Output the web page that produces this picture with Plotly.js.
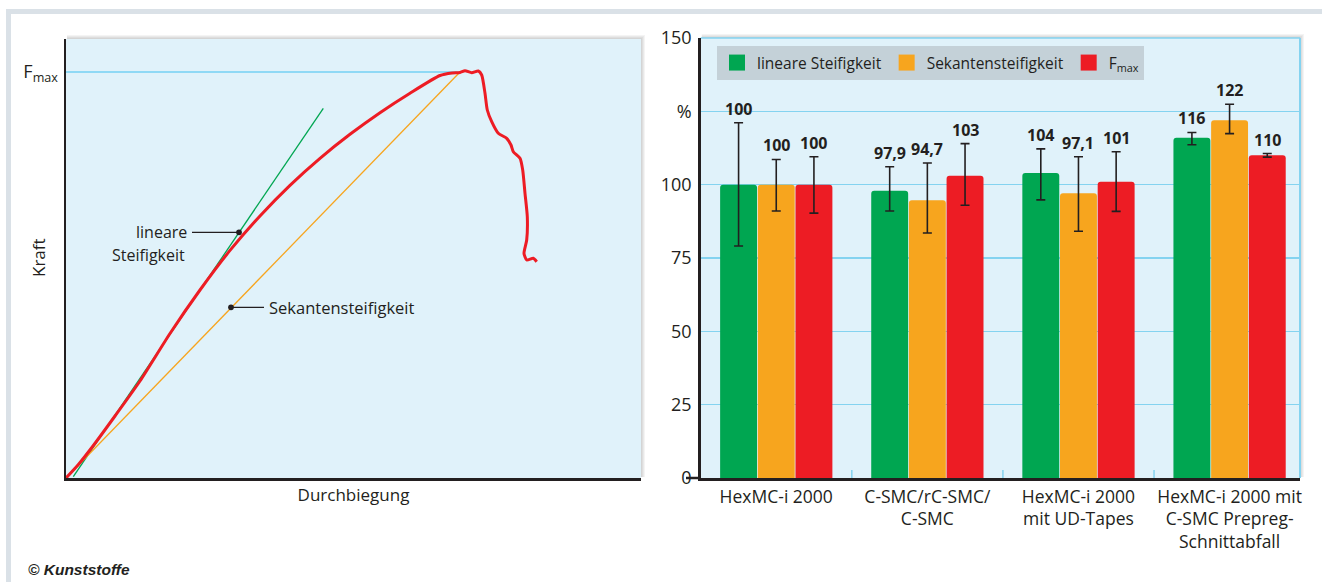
<!DOCTYPE html>
<html>
<head>
<meta charset="utf-8">
<script src="https://cdn.plot.ly/plotly-3.0.1.min.js"></script>
<style>
  html, body { margin: 0; padding: 0; background: #ffffff; }
  #chart { width: 1322px; height: 582px; }
</style>
</head>
<body>
<div id="chart"></div>
<script>
// ---------------- DATA ----------------
// Left chart: schematic force–deflection curve (units)
const curveX = [0, 12, 27, 49, 74, 104, 134, 164, 194, 224, 254, 284, 314, 344, 374, 386, 394, 399, 405.7, 412.3, 415.7, 419, 421.3, 425.7, 432.3, 440.7, 445, 447.3, 454, 456.7, 459, 461.3, 460.7, 458, 460.7, 467.3, 470.7];
const curveY = [0, 13, 32, 62, 97, 144.5, 188, 227.6, 262.1, 292.7, 319.7, 343.7, 365.3, 384.8, 402.5, 405, 405.5, 407.3, 405.3, 407, 403, 384.7, 368, 356.3, 344.7, 339.7, 333, 326.3, 319.7, 308, 284.7, 261.3, 238, 224.7, 218, 219.7, 216.3];
const tangentX = [7.3, 257.3];
const tangentY = [1.3, 369.7];
const secantX = [0, 394];
const secantY = [0, 406];
const fmaxX = [0, 394];
const fmaxY = [406, 406];
const fmaxTickLabel = ['F<sub>max</sub>'];
const linPoint = [173, 245.7];
const secPoint = [165, 170.7];

// Right chart: bar values (%)
const categories = ['HexMC-i 2000', 'C-SMC/rC-SMC/<br>C-SMC', 'HexMC-i 2000<br>mit UD-Tapes', 'HexMC-i 2000 mit<br>C-SMC Prepreg-<br>Schnittabfall'];
const seriesNames = ['lineare Steifigkeit', 'Sekantensteifigkeit', 'F<sub>max</sub>'];
const linStiff = [100, 97.9, 104, 116];
const linErrPlus = [21.1, 8.2, 8.2, 1.8];
const linErrMinus = [20.9, 6.9, 9.2, 2.4];
const linLabels = ['100', '97,9', '104', '116'];
const secStiff = [100, 94.7, 97.1, 122];
const secErrPlus = [8.6, 12.7, 12.4, 5.4];
const secErrMinus = [9.0, 11.2, 13.0, 4.6];
const secLabels = ['100', '94,7', '97,1', '122'];
const fmaxVals = [100, 103, 101, 110];
const fmaxErrPlus = [9.5, 11.0, 10.2, 0.6];
const fmaxErrMinus = [9.7, 10.0, 10.1, 0.6];
const fmaxLabels = ['100', '103', '101', '110'];
const yTickVals = [0, 25, 50, 75, 100, 125, 150];
const yTickText = ['0', '25', '50', '75', '100', '%', '150'];

// ---------------- STYLE ----------------
const W = 1322, H = 582;
const GREEN = '#00a651', ORANGE = '#f7a51e', RED = '#ed1c24', INK = '#231f20';
const BG = '#e0f2fa', GRID = '#84d3f0';
const colors = [GREEN, ORANGE, RED];
const px = v => v / W;
const py = v => 1 - v / H;

// plot boxes in pixels
const L = {x0: 66, x1: 641, y0: 39, y1: 478};
const R = {x0: 700.7, x1: 1300, y0: 38, y1: 478};

const traces = [];
// left chart traces
traces.push({x: fmaxX, y: fmaxY, type: 'scatter', mode: 'lines', line: {color: '#8fd9f5', width: 2}, xaxis: 'x', yaxis: 'y', showlegend: false, hoverinfo: 'skip'});
traces.push({x: tangentX, y: tangentY, type: 'scatter', mode: 'lines', line: {color: GREEN, width: 1.3}, xaxis: 'x', yaxis: 'y', showlegend: false});
traces.push({x: secantX, y: secantY, type: 'scatter', mode: 'lines', line: {color: ORANGE, width: 1.3}, xaxis: 'x', yaxis: 'y', showlegend: false});
traces.push({x: curveX, y: curveY, type: 'scatter', mode: 'lines', line: {color: RED, width: 3, shape: 'spline', smoothing: 0.6}, xaxis: 'x', yaxis: 'y', showlegend: false});

// right chart bars
const vals = [linStiff, secStiff, fmaxVals];
const errP = [linErrPlus, secErrPlus, fmaxErrPlus];
const errM = [linErrMinus, secErrMinus, fmaxErrMinus];
const labels = [linLabels, secLabels, fmaxLabels];
for (let s = 0; s < 3; s++) {
  traces.push({
    type: 'bar', x: categories, y: vals[s], name: seriesNames[s],
    xaxis: 'x2', yaxis: 'y2', showlegend: false,
    marker: {color: colors[s], cornerradius: 3, line: {width: 0}},
    error_y: {type: 'data', symmetric: false, array: errP[s], arrayminus: errM[s], color: INK, thickness: 1.6, width: 4.5}
  });
}
// legend entries
for (let s = 0; s < 3; s++) {
  traces.push({
    type: 'scatter', mode: 'markers', x: [null], y: [null], name: seriesNames[s],
    xaxis: 'x2', yaxis: 'y2', showlegend: true,
    marker: {symbol: 'square', size: 16, color: colors[s]}
  });
}

// ---------------- SHAPES ----------------
const shapes = [];
// page frame
shapes.push({type: 'rect', xref: 'paper', yref: 'paper', x0: px(6), x1: 1, y0: py(14), y1: py(9), fillcolor: '#dae1e7', line: {width: 0}, layer: 'below'});
shapes.push({type: 'rect', xref: 'paper', yref: 'paper', x0: px(6), x1: px(11), y0: 0, y1: py(9), fillcolor: '#dae1e7', line: {width: 0}, layer: 'below'});
// plot shadows + backgrounds
[L, R].forEach(b => {
  for (let k = 1; k <= 4; k++) {
    shapes.push({type: 'rect', xref: 'paper', yref: 'paper', x0: px(b.x0 + 1), x1: px(b.x1 + k), y0: py(b.y1 - 1), y1: py(b.y0 - k), fillcolor: 'rgba(0,0,0,0.045)', line: {width: 0}, layer: 'below'});
  }
  shapes.push({type: 'rect', xref: 'paper', yref: 'paper', x0: px(b.x0), x1: px(b.x1), y0: py(b.y1), y1: py(b.y0), fillcolor: BG, line: {width: 0}, layer: 'below'});
});
// right plot light-blue frame (top / right)
shapes.push({type: 'line', xref: 'paper', yref: 'paper', x0: px(R.x0), x1: px(R.x1), y0: py(R.y0), y1: py(R.y0), line: {color: GRID, width: 1.5}, layer: 'below'});
shapes.push({type: 'line', xref: 'paper', yref: 'paper', x0: px(R.x1), x1: px(R.x1), y0: py(R.y1), y1: py(R.y0), line: {color: GRID, width: 2}, layer: 'below'});
// group separator ticks
[0.5, 1.5, 2.5].forEach(v => {
  shapes.push({type: 'line', xref: 'x2', yref: 'paper', x0: v, x1: v, y0: py(R.y1), y1: py(R.y1 - 8), line: {color: GRID, width: 1.5}, layer: 'below'});
});
// extended x axis line at 0
shapes.push({type: 'line', xref: 'paper', yref: 'paper', x0: px(686), x1: px(R.x0), y0: py(R.y1), y1: py(R.y1), line: {color: INK, width: 2.5}});

// ---------------- ANNOTATIONS ----------------
const annotations = [];
const offs = [-0.2495, 0, 0.2495];
for (let s = 0; s < 3; s++) {
  for (let i = 0; i < categories.length; i++) {
    annotations.push({
      xref: 'x2', yref: 'y2', x: i + offs[s], y: vals[s][i] + errP[s][i],
      text: labels[s][i], showarrow: false, yanchor: 'bottom', yshift: 1,
      font: {family: 'Open Sans', size: 16, color: INK, weight: 'bold'}
    });
  }
}
// left chart pointer labels
annotations.push({xref: 'x', yref: 'y', x: linPoint[0], y: linPoint[1], text: 'lineare', showarrow: true,
  axref: 'pixel', ayref: 'pixel', ax: -47, ay: 0, xanchor: 'right', borderpad: 4,
  arrowhead: 6, arrowsize: 1.1, arrowwidth: 1.3, arrowcolor: INK, font: {size: 16, color: INK}});
annotations.push({xref: 'x', yref: 'y', x: linPoint[0], y: linPoint[1], text: 'Steifigkeit', showarrow: false,
  xanchor: 'right', xshift: -52, yshift: -23, font: {size: 16, color: INK}});
annotations.push({xref: 'x', yref: 'y', x: secPoint[0], y: secPoint[1], text: 'Sekantensteifigkeit', showarrow: true,
  axref: 'pixel', ayref: 'pixel', ax: 33, ay: 0, xanchor: 'left', borderpad: 4,
  arrowhead: 6, arrowsize: 1.1, arrowwidth: 1.3, arrowcolor: INK, font: {size: 16.5, color: INK}});
// Kraft title
annotations.push({xref: 'paper', yref: 'paper', x: px(38), y: py(258), xanchor: 'center', yanchor: 'middle', text: 'Kraft', textangle: -90, showarrow: false,
  font: {size: 17, color: INK}});
// copyright
annotations.push({xref: 'paper', yref: 'paper', x: px(26), y: py(569), xanchor: 'left', yanchor: 'middle', text: '<b><i>© Kunststoffe</i></b>', showarrow: false,
  font: {family: 'Liberation Sans Narrow, Liberation Sans, Arial', size: 15.5, color: INK}});

const layout = {
  width: W, height: H,
  margin: {l: 0, r: 0, t: 0, b: 0, pad: 0},
  paper_bgcolor: '#ffffff', plot_bgcolor: 'rgba(0,0,0,0)',
  font: {family: 'Open Sans, Noto Sans, sans-serif', size: 16, color: INK},
  xaxis: {domain: [px(L.x0), px(L.x1)], range: [0, 575], showgrid: false, zeroline: false,
    showline: true, linecolor: INK, linewidth: 2.5, ticks: '', showticklabels: false,
    title: {text: 'Durchbiegung', font: {size: 17, color: INK}, standoff: 10}},
  yaxis: {domain: [py(L.y1), py(L.y0)], range: [0, 439], showgrid: false, zeroline: false,
    showline: true, linecolor: INK, linewidth: 2.5, ticks: '',
    tickvals: [fmaxY[0]], ticktext: fmaxTickLabel, tickfont: {size: 18, color: INK}, ticklabelstandoff: 2},
  xaxis2: {domain: [px(R.x0), px(R.x1)], range: [-0.5, 3.466], type: 'category', showgrid: false, zeroline: false,
    showline: true, linecolor: INK, linewidth: 2.5, ticks: '', tickfont: {size: 17.5, color: INK}, ticklabelstandoff: 1, anchor: 'y2'},
  yaxis2: {domain: [py(R.y1), py(R.y0)], range: [0, 150], showgrid: true, gridcolor: GRID, gridwidth: 1.5, zeroline: false,
    showline: true, linecolor: INK, linewidth: 2.5, ticks: '', tickvals: yTickVals, ticktext: yTickText,
    tickfont: {size: 18, color: INK}, ticklabelstandoff: 3, anchor: 'x2'},
  barmode: 'group', bargap: 0.252, bargroupgap: 0.02,
  showlegend: true,
  legend: {orientation: 'h', x: px(717), y: py(46), xanchor: 'left', yanchor: 'top',
    bgcolor: '#c4d1d8', borderwidth: 0, font: {size: 15.5, color: INK}, itemwidth: 30, traceorder: 'normal'},
  shapes: shapes,
  annotations: annotations
};

Plotly.newPlot('chart', traces, layout, {displayModeBar: false, staticPlot: true});
</script>
</body>
</html>
